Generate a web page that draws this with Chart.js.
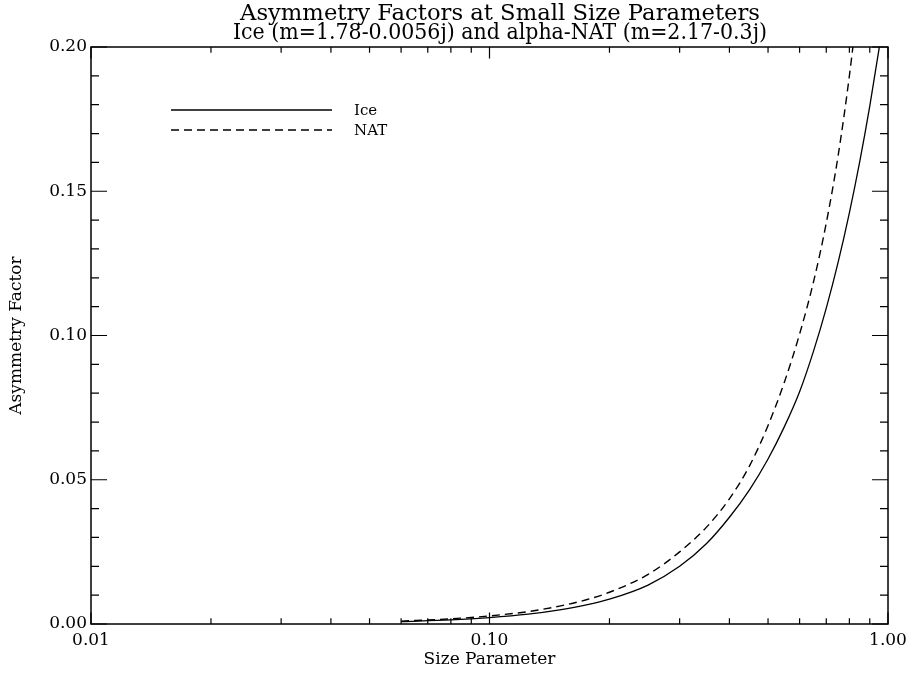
<!DOCTYPE html>
<html>
<head>
<meta charset="utf-8">
<script src="https://cdn.jsdelivr.net/npm/chart.js@4"></script>
<style>
    body { margin: 0; background: #fff; }
    #wrap { width: 906px; height: 673px; }
</style>
</head>
<body>
<div id="wrap"><canvas id="gChart"></canvas></div>
<script>
// Data
const iceSize = [0.06, 0.08, 0.10, 0.125, 0.15, 0.175, 0.20, 0.25, 0.30, 0.35, 0.40, 0.45, 0.50, 0.55, 0.60, 0.65, 0.70, 0.75, 0.80, 0.85, 0.90, 0.95, 1.00];
const iceG = [0.0008, 0.0014, 0.0022, 0.0034, 0.0049, 0.0066, 0.0086, 0.0135, 0.0200, 0.0278, 0.0370, 0.0467, 0.0572, 0.0685, 0.0805, 0.0945, 0.1095, 0.1255, 0.1425, 0.1605, 0.1795, 0.1995, 0.2205];
const natSize = [0.06, 0.08, 0.10, 0.125, 0.15, 0.175, 0.20, 0.25, 0.30, 0.35, 0.40, 0.45, 0.50, 0.55, 0.60, 0.65, 0.70, 0.75, 0.80, 0.85];
const natG = [0.0010, 0.0018, 0.0028, 0.0043, 0.0062, 0.0084, 0.0110, 0.0172, 0.0250, 0.0335, 0.0434, 0.0550, 0.0688, 0.0840, 0.1005, 0.1185, 0.1390, 0.1625, 0.1900, 0.2210];

// Axis ticks
const xMajorTicks = [0.01, 0.1, 1];
const xTickLabels = ['0.01', '0.10', '1.00'];
const yMajorTicks = [0, 0.05, 0.10, 0.15, 0.20];
const yTickLabels = ['0.00', '0.05', '0.10', '0.15', '0.20'];

const titleLines = ['Asymmetry Factors at Small Size Parameters', 'Ice (m=1.78-0.0056j) and alpha-NAT (m=2.17-0.3j)'];

const serif = '"DejaVu Serif", serif';

// x ticks: 1..9 in every decade, y ticks: every 0.01
const xTicks = [];
[0.01, 0.1].forEach(d => { for (let k = 1; k <= 9; k++) xTicks.push(+(d * k).toPrecision(3)); });
xTicks.push(1);
const yTicks = [];
for (let i = 0; i <= 20; i++) yTicks.push(+(i * 0.01).toFixed(2));

function isNear(a, list) {
    return list.findIndex(v => Math.abs(v - a) < 1e-9);
}

// Frame, inward ticks, title and legend drawn IDL style
const idlStyle = {
    id: 'idlStyle',
    afterDraw(chart) {
        const { ctx, chartArea: a, scales: { x, y } } = chart;
        ctx.save();
        ctx.strokeStyle = '#000';
        ctx.lineWidth = 1.5;
        ctx.strokeRect(a.left, a.top, a.right - a.left, a.bottom - a.top);

        ctx.lineWidth = 1.2;
        ctx.beginPath();
        x.ticks.forEach(t => {
            const px = x.getPixelForValue(t.value);
            const len = isNear(t.value, xMajorTicks) >= 0 ? 11.5 : 5.8;
            ctx.moveTo(px, a.bottom); ctx.lineTo(px, a.bottom - len);
            ctx.moveTo(px, a.top); ctx.lineTo(px, a.top + len);
        });
        y.ticks.forEach(t => {
            const py = y.getPixelForValue(t.value);
            const len = isNear(t.value, yMajorTicks) >= 0 ? 16 : 8;
            ctx.moveTo(a.left, py); ctx.lineTo(a.left + len, py);
            ctx.moveTo(a.right, py); ctx.lineTo(a.right - len, py);
        });
        ctx.stroke();

        // two-line title, fitted to the width it has in the original
        ctx.fillStyle = '#000';
        ctx.textAlign = 'center';
        ctx.textBaseline = 'alphabetic';
        ctx.font = '23px ' + serif;
        const cx = 500;
        [[20, 520], [39, 534]].forEach(([by, target], i) => {
            const w = ctx.measureText(titleLines[i]).width;
            ctx.save();
            ctx.translate(cx, by);
            ctx.scale(target / w, 1);
            ctx.fillText(titleLines[i], 0, 0);
            ctx.restore();
        });

        // legend
        ctx.textAlign = 'left';
        ctx.textBaseline = 'middle';
        ctx.font = '15px ' + serif;
        chart.data.datasets.forEach((ds, i) => {
            const ly = a.top + 63 + i * 20;
            ctx.beginPath();
            ctx.setLineDash(ds.borderDash || []);
            ctx.lineWidth = ds.borderWidth;
            ctx.moveTo(a.left + 80, ly);
            ctx.lineTo(a.left + 241, ly);
            ctx.stroke();
            ctx.setLineDash([]);
            ctx.fillText(ds.label, a.left + 263, ly + 1);
        });
        ctx.restore();
    }
};

const ctx = document.getElementById('gChart').getContext('2d');

new Chart(ctx, {
    type: 'line',
    data: {
        datasets: [{
            label: 'Ice',
            data: iceSize.map((s, i) => ({ x: s, y: iceG[i] })),
            borderColor: '#000',
            borderWidth: 1.3,
            pointRadius: 0,
            cubicInterpolationMode: 'monotone',
            fill: false
        }, {
            label: 'NAT',
            data: natSize.map((s, i) => ({ x: s, y: natG[i] })),
            borderColor: '#000',
            borderWidth: 1.4,
            borderDash: [8, 5],
            pointRadius: 0,
            cubicInterpolationMode: 'monotone',
            fill: false
        }]
    },
    options: {
        responsive: true,
        maintainAspectRatio: false,
        animation: false,
        layout: {
            padding: { top: 47, right: 18, bottom: 3, left: 6 }
        },
        scales: {
            x: {
                type: 'logarithmic',
                min: 0.01,
                max: 1,
                grid: { display: false, drawTicks: false },
                border: { display: false },
                afterBuildTicks: s => { s.ticks = xTicks.map(v => ({ value: v })); },
                afterFit: s => {
                    s.height = 46;
                    s.paddingLeft = 0;   // let the 1.00 label hang over the edge
                    s.paddingRight = 0;
                },
                ticks: {
                    autoSkip: false,
                    maxRotation: 0,
                    padding: 6,
                    color: '#000',
                    font: { family: serif, size: 17 },
                    callback: v => {
                        const k = isNear(v, xMajorTicks);
                        return k >= 0 ? xTickLabels[k] : '';
                    }
                },
                title: {
                    display: true,
                    text: 'Size Parameter',
                    color: '#000',
                    font: { family: serif, size: 17 },
                    padding: 0
                }
            },
            y: {
                type: 'linear',
                min: 0,
                max: 0.2,
                grid: { display: false, drawTicks: false },
                border: { display: false },
                afterBuildTicks: s => { s.ticks = yTicks.map(v => ({ value: v })); },
                afterFit: s => {
                    s.width = 85;
                    s.paddingTop = 0;
                    s.paddingBottom = 0;
                },
                ticks: {
                    autoSkip: false,
                    padding: 4,
                    color: '#000',
                    font: { family: serif, size: 17 },
                    callback: v => {
                        const k = isNear(v, yMajorTicks);
                        return k >= 0 ? yTickLabels[k] : '';
                    }
                },
                title: {
                    display: true,
                    text: 'Asymmetry Factor',
                    color: '#000',
                    font: { family: serif, size: 17 },
                    padding: 0
                }
            }
        },
        plugins: {
            legend: { display: false },
            tooltip: { enabled: false }
        }
    },
    plugins: [idlStyle]
});
</script>
</body>
</html>
